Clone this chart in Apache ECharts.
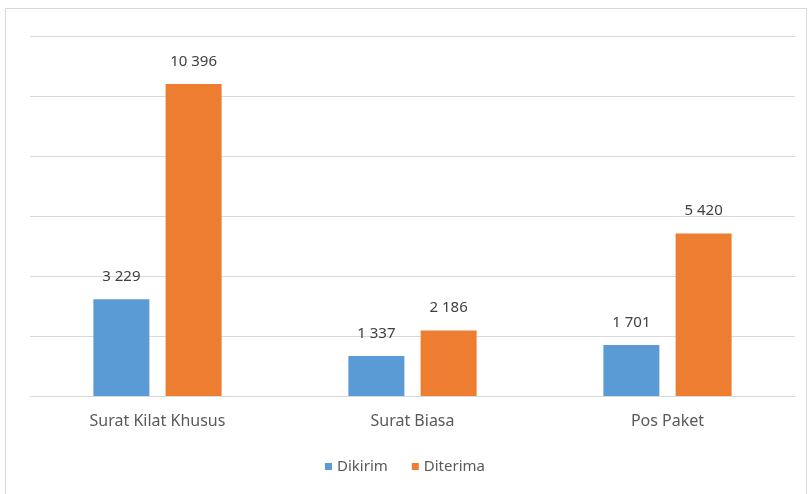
<!DOCTYPE html>
<html>
<head>
    <meta charset="utf-8">
    <title>Pos - Dikirim / Diterima</title>
    <script src="https://cdn.jsdelivr.net/npm/echarts@6/dist/echarts.min.js"></script>
    <style>
        html, body { margin: 0; padding: 0; background: #fff; }
        #frame { position: absolute; left: 5px; top: 8px; width: 802px; height: 500px; border: 1px solid #d9d9d9; box-sizing: border-box; }
        #chart1 { position: absolute; left: 0; top: 0; width: 810px; height: 494px; }
    </style>
</head>
<body>
<div id="frame"></div>
<div id="chart1"></div>
<script>
    // data
    var categories = ['Surat Kilat Khusus', 'Surat Biasa', 'Pos Paket'];
    var dikirim = [3229, 1337, 1701];
    var diterima = [10396, 2186, 5420];

    function fmt(v) {
        return String(v).replace(/\B(?=(\d{3})+(?!\d))/g, ' ');
    }

    var myChart1 = echarts.init(document.getElementById('chart1'));
    var labelStyle = {
        show: true,
        position: 'top',
        distance: 15,
        color: '#404040',
        fontSize: 15,
        fontFamily: 'Noto Sans',
        formatter: function (p) { return fmt(p.value); }
    };
    myChart1.setOption({
        animation: false,
        textStyle: { fontFamily: 'Noto Sans' },
        grid: { left: 30, right: 15, top: 36, bottom: 98 },
        legend: {
            data: ['Dikirim', 'Diterima'],
            top: 454,
            left: 'center',
            itemWidth: 7,
            itemHeight: 7,
            itemGap: 24,
            icon: 'rect',
            textStyle: { color: '#595959', fontSize: 15, fontFamily: 'Noto Sans' }
        },
        xAxis: {
            type: 'category',
            data: categories,
            axisLine: { lineStyle: { color: '#d9d9d9' } },
            axisTick: { show: false },
            axisLabel: { color: '#595959', fontSize: 16, margin: 17, fontFamily: 'Noto Sans' }
        },
        yAxis: {
            type: 'value',
            min: 0,
            max: 12000,
            interval: 2000,
            axisLabel: { show: false },
            axisLine: { show: false },
            axisTick: { show: false },
            splitLine: { lineStyle: { color: '#d9d9d9' } }
        },
        series: [{
            name: 'Dikirim',
            type: 'bar',
            data: dikirim,
            barWidth: 56,
            barGap: '29%',
            itemStyle: { color: '#5B9BD5' },
            label: labelStyle
        }, {
            name: 'Diterima',
            type: 'bar',
            data: diterima,
            barWidth: 56,
            itemStyle: { color: '#ED7D31' },
            label: labelStyle
        }]
    });
</script>
</body>
</html>
